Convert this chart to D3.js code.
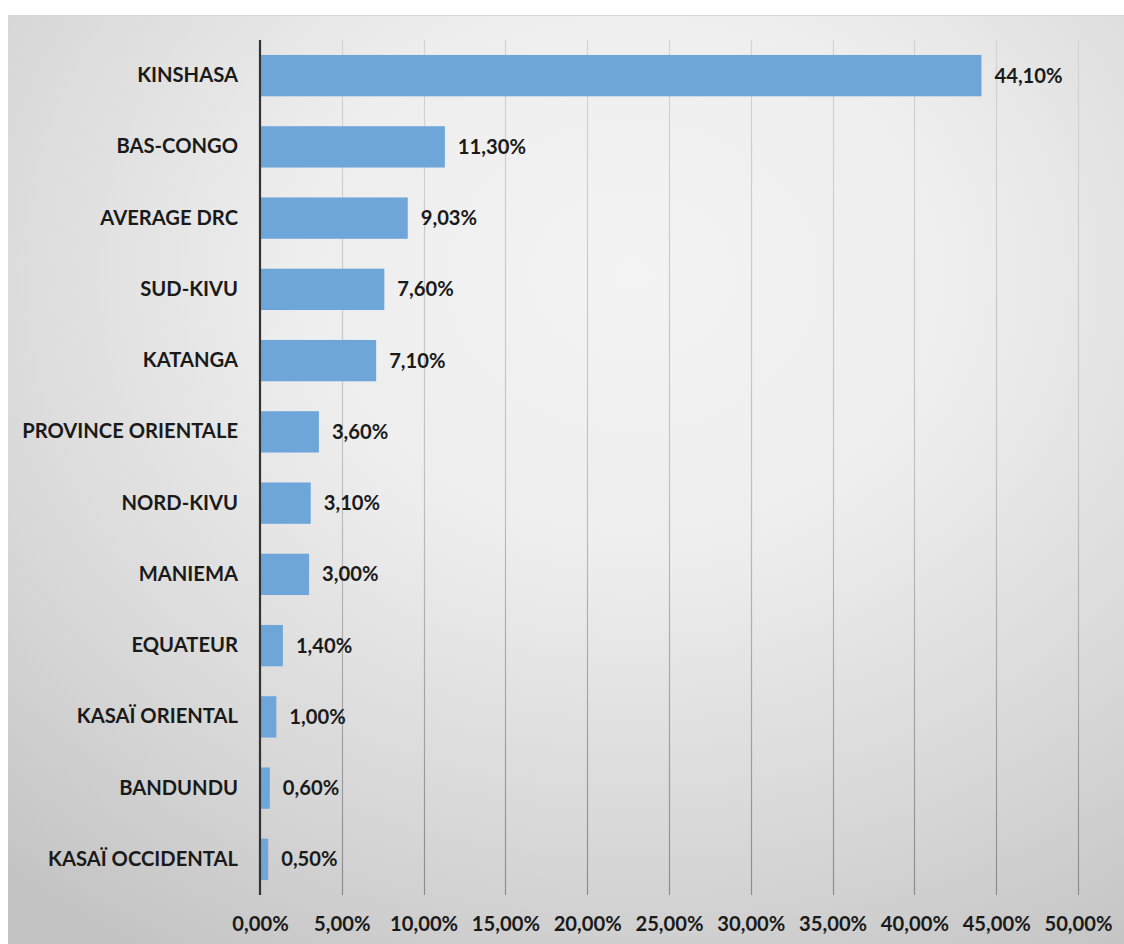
<!DOCTYPE html>
<html>
<head>
<meta charset="utf-8">
<script src="https://cdn.jsdelivr.net/npm/d3@7"></script>
<style>
  html, body { margin: 0; padding: 0; background: #fff; }
  svg { display: block; }
  text { font-family: Lato, "Open Sans", sans-serif; font-weight: bold; fill: #1a1a1a; }
</style>
</head>
<body>
<svg id="chart" width="1124" height="944"></svg>
<script>
// Regions of the DRC and their share (%)
const regions = [
  "KINSHASA", "BAS-CONGO", "AVERAGE DRC", "SUD-KIVU", "KATANGA",
  "PROVINCE ORIENTALE", "NORD-KIVU", "MANIEMA", "EQUATEUR",
  "KASAÏ ORIENTAL", "BANDUNDU", "KASAÏ OCCIDENTAL"
];
const shares = [44.10, 11.30, 9.03, 7.60, 7.10, 3.60, 3.10, 3.00, 1.40, 1.00, 0.60, 0.50];
const shareLabels = ["44,10%", "11,30%", "9,03%", "7,60%", "7,10%", "3,60%", "3,10%", "3,00%", "1,40%", "1,00%", "0,60%", "0,50%"];
const tickValues = [0, 5, 10, 15, 20, 25, 30, 35, 40, 45, 50];
const tickLabels = ["0,00%", "5,00%", "10,00%", "15,00%", "20,00%", "25,00%", "30,00%", "35,00%", "40,00%", "45,00%", "50,00%"];

const svg = d3.select("#chart");
const W = 1124, H = 944;
const plot = { left: 260, right: 1078, top: 40, bottom: 895 };
const FONT = 20.2;

// Background panel with soft grey gradient
const defs = svg.append("defs");
const bg = defs.append("radialGradient")
  .attr("id", "bg").attr("cx", "56%").attr("cy", "28%").attr("r", "85%")
  .attr("fx", "56%").attr("fy", "28%");
bg.append("stop").attr("offset", "0").attr("stop-color", "#f3f3f3");
bg.append("stop").attr("offset", "0.35").attr("stop-color", "#eeeeee");
bg.append("stop").attr("offset", "0.75").attr("stop-color", "#d6d6d6");
bg.append("stop").attr("offset", "1").attr("stop-color", "#c4c4c4");

const gridGrad = defs.append("linearGradient")
  .attr("id", "gridGrad").attr("gradientUnits", "userSpaceOnUse")
  .attr("x1", 0).attr("y1", plot.top).attr("x2", 0).attr("y2", plot.bottom);
gridGrad.append("stop").attr("offset", "0").attr("stop-color", "#d4d4d4");
gridGrad.append("stop").attr("offset", "0.5").attr("stop-color", "#c2c2c2");
gridGrad.append("stop").attr("offset", "1").attr("stop-color", "#8c8c8c");

svg.append("rect").attr("x", 0).attr("y", 0).attr("width", W).attr("height", H).attr("fill", "#ffffff");
svg.append("rect").attr("x", 8).attr("y", 15).attr("width", W - 8).attr("height", H - 15)
  .attr("fill", "url(#bg)");
svg.append("line").attr("x1", 8).attr("x2", W).attr("y1", 15.5).attr("y2", 15.5)
  .attr("stroke", "#d8d8d8").attr("stroke-width", 1);

const x = d3.scaleLinear().domain([0, 50]).range([plot.left, plot.right]);
const y = d3.scaleBand().domain(regions).range([plot.top, plot.bottom]).paddingInner(0.42).paddingOuter(0.21);

// Vertical gridlines
svg.append("g")
  .selectAll("line")
  .data(tickValues.slice(1))
  .join("line")
  .attr("x1", d => Math.round(x(d)) + 0.5)
  .attr("x2", d => Math.round(x(d)) + 0.5)
  .attr("y1", plot.top)
  .attr("y2", plot.bottom)
  .attr("stroke", "url(#gridGrad)")
  .attr("stroke-width", 1.2);

// Bars
svg.append("g")
  .selectAll("rect")
  .data(regions)
  .join("rect")
  .attr("x", x(0))
  .attr("y", d => y(d))
  .attr("width", (d, i) => x(shares[i]) - x(0))
  .attr("height", y.bandwidth())
  .attr("fill", "#6fa6d9");

// Value axis line
svg.append("line")
  .attr("x1", x(0)).attr("x2", x(0))
  .attr("y1", plot.top).attr("y2", plot.bottom)
  .attr("stroke", "#333333").attr("stroke-width", 2.2);

// Category labels
const yAxis = d3.axisLeft(y).tickSize(0).tickPadding(22);
const gy = svg.append("g").attr("transform", `translate(${x(0)},0)`).call(yAxis);
gy.select(".domain").remove();
gy.selectAll("text")
  .attr("font-size", FONT)
  .style("font-family", "Lato, 'Open Sans', sans-serif")
  .style("font-weight", "bold")
  .attr("fill", "#1a1a1a");

// Value labels
svg.append("g")
  .selectAll("text")
  .data(regions)
  .join("text")
  .attr("x", (d, i) => x(shares[i]) + 13)
  .attr("y", d => y(d) + y.bandwidth() / 2)
  .attr("dy", "0.35em")
  .attr("font-size", FONT)
  .text((d, i) => shareLabels[i]);

// Percentage axis labels
const xAxis = d3.axisBottom(x).tickValues(tickValues).tickSize(0).tickPadding(22)
  .tickFormat((d, i) => tickLabels[i]);
const gx = svg.append("g").attr("transform", `translate(0,${plot.bottom})`).call(xAxis);
gx.select(".domain").remove();
gx.selectAll("text")
  .attr("font-size", FONT)
  .style("font-family", "Lato, 'Open Sans', sans-serif")
  .style("font-weight", "bold")
  .attr("fill", "#1a1a1a");
</script>
</body>
</html>
